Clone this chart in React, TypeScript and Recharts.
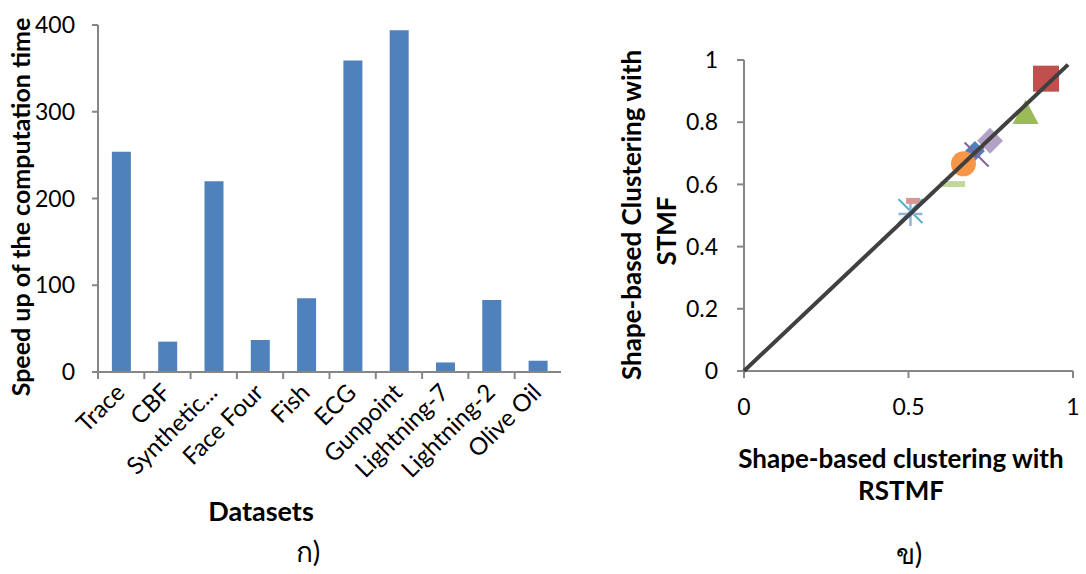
import React from "react";
import {
  Bar,
  BarChart,
  Scatter,
  ScatterChart,
  XAxis,
  YAxis,
} from "recharts";

// left panel: speed-up per dataset
const datasets: string[] = [
  "Trace",
  "CBF",
  "Synthetic...",
  "Face Four",
  "Fish",
  "ECG",
  "Gunpoint",
  "Lightning-7",
  "Lightning-2",
  "Olive Oil",
];
const speedup: number[] = [254, 35, 220, 37, 85, 359, 394, 11, 83, 13];

// right panel: clustering quality, RSTMF (x) vs STMF (y)
const rstmf: number[] = [0.702, 0.918, 0.856, 0.707, 0.506, 0.667, 0.506, 0.514, 0.634, 0.748];
const stmf: number[] = [0.707, 0.94, 0.83, 0.696, 0.514, 0.666, 0.505, 0.547, 0.601, 0.74];

type Marker = "diamond" | "square" | "triangle" | "x" | "star" | "circle" | "plus" | "dash" | "bar";
const markers: Marker[] = ["diamond", "square", "triangle", "x", "star", "circle", "plus", "dash", "bar", "diamond"];
const markerColors: string[] = [
  "#4F81BD",
  "#C0504D",
  "#9BBB59",
  "#8064A2",
  "#4BACC6",
  "#F79646",
  "#95B3D7",
  "#D99694",
  "#C3D69B",
  "#B3A2C7",
];
const markerSizes: number[] = [10, 13, 13, 12, 12, 12.5, 12, 7, 12.5, 13];

const diagonal = [
  { x: 0, y: 0 },
  { x: 0.985, y: 0.985 },
];

const FONT = "Lato, 'Noto Sans', sans-serif";
const AXIS = "#868686";
const BAR_W = 580;
const BAR_MARGIN = { top: 25, right: 19, left: 0, bottom: 52 };
const Y_W = 98;
const STEP = (BAR_W - Y_W - BAR_MARGIN.right) / datasets.length;

const barData = datasets.map((name, i) => ({ name, speedup: speedup[i] }));
const scatterSeries = rstmf.map((x, i) => ({
  data: [{ x, y: stmf[i] }],
  marker: markers[i],
  color: markerColors[i],
  size: markerSizes[i],
}));

const DatasetTick = (props: any) => {
  const { x, y, payload } = props;
  return (
    <g>
      <line x1={x - STEP / 2} x2={x - STEP / 2} y1={y} y2={y + 7} stroke={AXIS} strokeWidth={2} />
      <text
        transform={`translate(${x + 5},${y + 22}) rotate(-45)`}
        textAnchor="end"
        fontSize={24}
        fontFamily={FONT}
        fill="#000"
      >
        {payload.value}
      </text>
    </g>
  );
};

const makeShape = (kind: Marker, color: string, s: number) => (props: any) => {
  const { cx, cy } = props;
  switch (kind) {
    case "diamond":
      return (
        <polygon
          points={`${cx},${cy - s} ${cx + s},${cy} ${cx},${cy + s} ${cx - s},${cy}`}
          fill={color}
        />
      );
    case "square":
      return <rect x={cx - s} y={cy - s} width={2 * s} height={2 * s} fill={color} />;
    case "triangle":
      return (
        <polygon
          points={`${cx},${cy - s} ${cx + s},${cy + s * 0.85} ${cx - s},${cy + s * 0.85}`}
          fill={color}
        />
      );
    case "circle":
      return <circle cx={cx} cy={cy} r={s} fill={color} />;
    case "x":
    case "star":
      return (
        <g stroke={color} strokeWidth={2}>
          <line x1={cx - s} y1={cy - s} x2={cx + s} y2={cy + s} />
          <line x1={cx - s} y1={cy + s} x2={cx + s} y2={cy - s} />
        </g>
      );
    case "plus":
      return (
        <g stroke={color} strokeWidth={2.5}>
          <line x1={cx - s} y1={cy} x2={cx + s} y2={cy} />
          <line x1={cx} y1={cy - s} x2={cx} y2={cy + s} />
        </g>
      );
    case "dash":
    case "bar":
      return <rect x={cx - s} y={cy - 3} width={2 * s} height={6} fill={color} />;
    default:
      return <g />;
  }
};

const tickStyle = { fontSize: 23, fontFamily: FONT, fill: "#000" };

export default function App() {
  return (
    <div style={{ position: "absolute", left: 0, top: 0, width: 1086, height: 574, background: "#fff" }}>
      <div style={{ position: "absolute", left: 0, top: 0 }}>
        <BarChart width={BAR_W} height={574} data={barData} margin={BAR_MARGIN} barCategoryGap="30%">
          <XAxis
            dataKey="name"
            interval={0}
            height={150}
            tickSize={0}
            tickMargin={0}
            tick={<DatasetTick />}
            axisLine={{ stroke: AXIS, strokeWidth: 2 }}
          />
          <YAxis
            width={Y_W}
            domain={[0, 400]}
            ticks={[0, 100, 200, 300, 400]}
            tickSize={6}
            tickMargin={17}
            tick={tickStyle}
            axisLine={{ stroke: AXIS, strokeWidth: 2 }}
            tickLine={{ stroke: AXIS, strokeWidth: 2 }}
          />
          <Bar dataKey="speedup" fill="#4F81BD" isAnimationActive={false} />
        </BarChart>
      </div>
      <div style={{ position: "absolute", left: 580, top: 0 }}>
        <ScatterChart width={506} height={574} margin={{ top: 60, right: 13, left: 0, bottom: 153 }}>
          <XAxis
            type="number"
            dataKey="x"
            domain={[0, 1]}
            ticks={[0, 0.5, 1]}
            height={50}
            tickSize={7}
            tickMargin={21}
            tick={tickStyle}
            axisLine={{ stroke: AXIS, strokeWidth: 2 }}
            tickLine={{ stroke: AXIS, strokeWidth: 2 }}
          />
          <YAxis
            type="number"
            dataKey="y"
            width={164}
            domain={[0, 1]}
            ticks={[0, 0.2, 0.4, 0.6, 0.8, 1]}
            tickSize={7}
            tickMargin={19}
            tick={tickStyle}
            axisLine={{ stroke: AXIS, strokeWidth: 2 }}
            tickLine={{ stroke: AXIS, strokeWidth: 2 }}
          />
          {scatterSeries.map((s, i) => (
            <Scatter
              key={i}
              data={s.data}
              shape={makeShape(s.marker, s.color, s.size)}
              isAnimationActive={false}
            />
          ))}
          <Scatter
            data={diagonal}
            line={{ stroke: "#404040", strokeWidth: 4 }}
            shape={() => <g />}
            isAnimationActive={false}
          />
        </ScatterChart>
      </div>
      <svg
        width={1086}
        height={574}
        style={{ position: "absolute", left: 0, top: 0, pointerEvents: "none" }}
        fontFamily={FONT}
      >
        <text
          transform="translate(30,207) rotate(-90)"
          textAnchor="middle"
          fontSize={25}
          fontWeight="bold"
        >
          Speed up of the computation time
        </text>
        <text x={261} y={521} textAnchor="middle" fontSize={27} fontWeight="bold">
          Datasets
        </text>
        <text x={308} y={562} textAnchor="middle" fontSize={28}>
          ก)
        </text>
        <text
          transform="translate(641,215) rotate(-90)"
          textAnchor="middle"
          fontSize={26}
          fontWeight="bold"
        >
          Shape-based Clustering with
        </text>
        <text
          transform="translate(676,231) rotate(-90)"
          textAnchor="middle"
          fontSize={26}
          fontWeight="bold"
        >
          STMF
        </text>
        <text x={901} y={468} textAnchor="middle" fontSize={26} fontWeight="bold">
          Shape-based clustering with
        </text>
        <text x={901} y={500} textAnchor="middle" fontSize={26} fontWeight="bold">
          RSTMF
        </text>
        <text x={909} y={564} textAnchor="middle" fontSize={28}>
          ข)
        </text>
      </svg>
    </div>
  );
}
